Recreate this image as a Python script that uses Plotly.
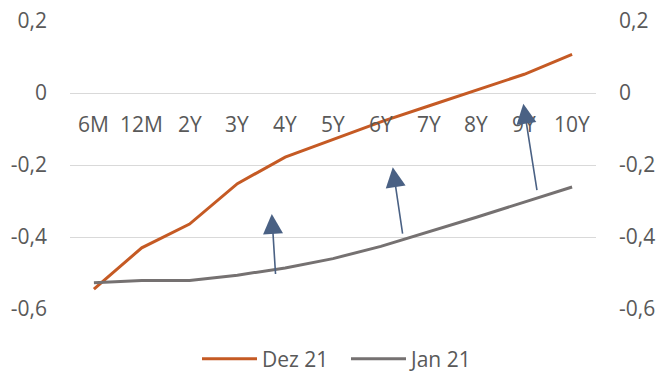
import plotly.graph_objects as go

categories = ["6M", "12M", "2Y", "3Y", "4Y", "5Y", "6Y", "7Y", "8Y", "9Y", "10Y"]
dez21 = [-0.545, -0.43, -0.364, -0.252, -0.178, -0.13, -0.08, -0.036, 0.008, 0.052, 0.107]
jan21 = [-0.527, -0.521, -0.521, -0.506, -0.486, -0.46, -0.426, -0.386, -0.345, -0.303, -0.261]
ytick_vals = [0.2, 0, -0.2, -0.4, -0.6]
ytick_text = ["0,2", "0", "-0,2", "-0,4", "-0,6"]

# arrows: (category index, value) of tail -> head
arrow_tails = [(3.8, -0.507), (6.46, -0.395), (9.27, -0.274)]
arrow_heads = [(3.72, -0.336), (6.25, -0.206), (8.98, -0.03)]

FONT = "Open Sans"
TXT = "#595959"
FS = 21

fig = go.Figure()
fig.add_trace(go.Scatter(x=list(range(len(categories))), y=dez21, mode="lines", name="Dez 21",
                         line=dict(color="#C55A24", width=3)))
fig.add_trace(go.Scatter(x=list(range(len(categories))), y=jan21, mode="lines", name="Jan 21",
                         line=dict(color="#757171", width=3)))
# invisible trace for right axis
fig.add_trace(go.Scatter(x=[0], y=[0], yaxis="y2", mode="markers", marker=dict(opacity=0),
                         showlegend=False, hoverinfo="skip"))

for i, c in enumerate(categories):
    fig.add_annotation(x=i, y=-0.086, xref="x", yref="y", text=c, showarrow=False,
                       font=dict(family=FONT, size=FS, color=TXT))

for (tx, ty), (hx, hy) in zip(arrow_tails, arrow_heads):
    fig.add_annotation(x=hx, y=hy, ax=tx, ay=ty, xref="x", yref="y", axref="x", ayref="y",
                       text="", showarrow=True, arrowhead=2, arrowsize=2.5, arrowwidth=1.6,
                       arrowcolor="#4A6184", standoff=0)

fig.update_layout(
    width=659, height=374,
    margin=dict(l=70, r=63, t=21, b=65, autoexpand=False),
    paper_bgcolor="white", plot_bgcolor="white",
    font=dict(family=FONT, size=FS, color=TXT),
    showlegend=True,
    legend=dict(orientation="h", x=197 / 659, xanchor="left", xref="container",
                y=15 / 374, yanchor="middle", yref="container",
                font=dict(family=FONT, size=FS, color=TXT), itemwidth=55,
                entrywidth=79, entrywidthmode="pixels",
                bgcolor="rgba(0,0,0,0)"),
    xaxis=dict(range=[-0.5, 10.5], showticklabels=False, showgrid=False, zeroline=False,
               showline=False, fixedrange=True),
    yaxis=dict(range=[-0.6, 0.2], tickvals=ytick_vals, ticktext=ytick_text, showgrid=True,
               gridcolor="#D9D9D9", gridwidth=1, zeroline=False, showline=False,
               ticklabelstandoff=22, tickfont=dict(family=FONT, size=FS, color=TXT)),
    yaxis2=dict(range=[-0.6, 0.2], tickvals=ytick_vals, ticktext=ytick_text, overlaying="y",
                side="right", showgrid=False, zeroline=False, showline=False,
                ticklabelstandoff=22, tickfont=dict(family=FONT, size=FS, color=TXT)),
)

fig.write_html("out.html")
